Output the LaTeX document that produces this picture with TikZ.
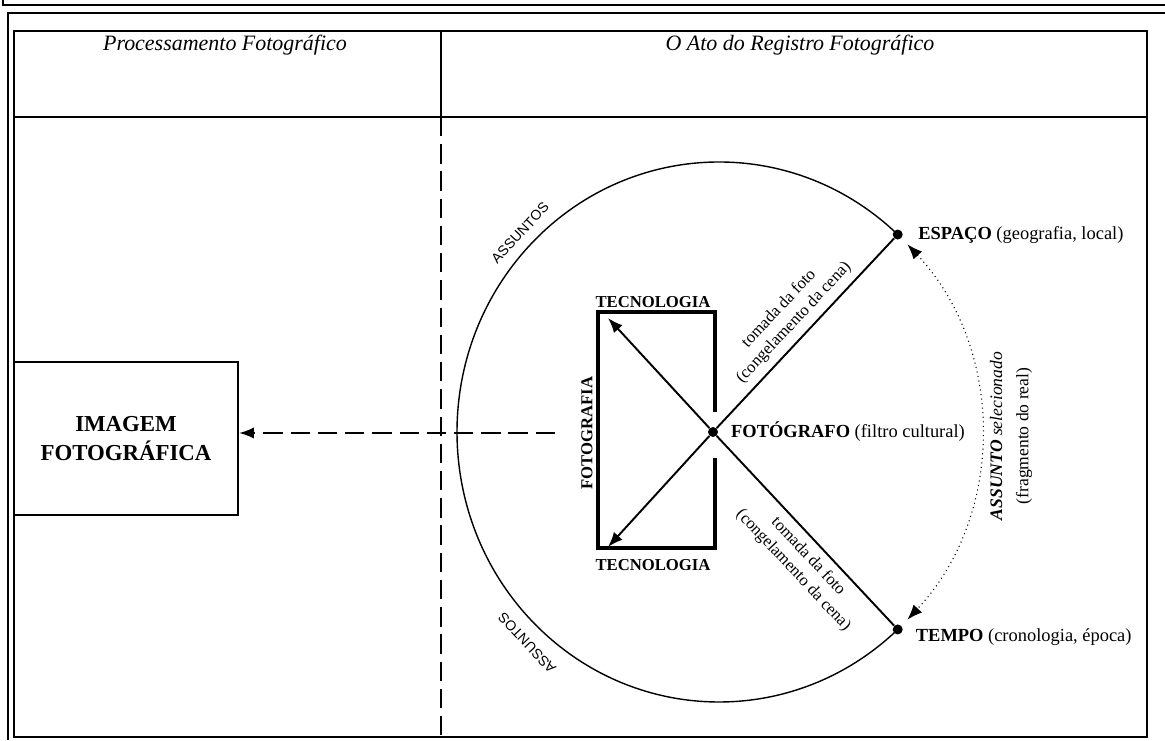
\documentclass[tikz,border=0pt]{standalone}
\usepackage{fontspec}
\setmainfont{Liberation Serif}
\setsansfont{Liberation Sans}
\usetikzlibrary{arrows.meta,positioning}

\begin{document}
\begin{tikzpicture}[x=0.02cm,y=0.02cm,
		frame line/.style = {line width=1.1pt},
		dash line/.style = {line width=1.3pt, dash pattern=on 11pt off 4.5pt},
		circ line/.style = {line width=0.8pt},
		ray line/.style = {line width=1.1pt},
		box line/.style = {line width=2.4pt, line join=miter},
		tip/.style = {-{Latex[length=3mm,width=2.3mm]}},
		dot node/.style = {circle, fill, inner sep=0pt, minimum size=0.2cm},
		head node/.style = {font=\fontsize{12.5}{14}\selectfont\itshape},
		image node/.style = {draw, line width=1.1pt, minimum width=4.48cm, minimum height=3.06cm,
			align=center, font=\fontsize{13}{16}\selectfont\bfseries},
		label node/.style = {font=\fontsize{10.5}{12}\selectfont, inner sep=0pt},
		tec node/.style = {font=\fontsize{9.5}{11}\selectfont\bfseries, inner sep=1pt},
		shot node/.style = {font=\fontsize{9.5}{11.5}\selectfont, align=center, inner sep=1pt},
		sans node/.style = {font=\fontsize{8}{10}\selectfont\sffamily, inner sep=0pt}]
	\useasboundingbox (0,0) rectangle (1165,740);
	
	% frames
	\draw[frame line] (3,740) -- (3,735) -- (1165,735);
	\draw[frame line] (8,0) -- (8,727) -- (1165,727);
	\draw[frame line] (14,3) rectangle (1147,709);
	\draw[frame line] (14,623) -- (1147,623);
	\draw[frame line] (441,709) -- (441,623);
	\draw[dash line] (441,623) -- (441,3);
	
	\node[head node] (h1) at (225,695) {Processamento Fotográfico};
	\node[head node] (h2) at (800,695) {O Ato do Registro Fotográfico};
	
	% left box
	\node[image node] (imagem) at (126,301.5) {IMAGEM\\FOTOGRÁFICA};
	\coordinate (src) at (555,307);
	\draw[dash line,tip] (src) -- (src -| imagem.east);
	
	% circle
	\coordinate (c) at (719,308);
	\node[dot node] (foto) at (713,308) {};
	\node[dot node] (esp) at ([shift={(47:262 and 270)}]c) {};
	\node[dot node] (tempo) at ([shift={(-47:262 and 270)}]c) {};
	\draw[circ line] (esp.center) arc[start angle=47, end angle=313, x radius=262, y radius=270];
	\coordinate (d1) at ([shift={(44:262 and 270)}]c);
	\draw[line width=0.6pt, dotted, {Latex[length=3mm,width=2.3mm]}-{Latex[length=3mm,width=2.3mm]}]
		(d1) arc[start angle=44, end angle=-44, x radius=262, y radius=270];
	
	\node[sans node, rotate=47] (as1) at (520,507) {ASSUNTOS};
	\node[sans node, rotate=133] (as2) at (527,97) {ASSUNTOS};
	
	% photo frame
	\draw[box line] (715,328) -- (715,428) -- (598,428) -- (598,192) -- (715,192) -- (715,282);
	\coordinate (tl) at (608,422);
	\coordinate (bl) at (608,193);
	\draw[ray line,tip] (foto) -- (tl);
	\draw[ray line,tip] (foto) -- (bl);
	\node[tec node] (tec1) at (653,438) {TECNOLOGIA};
	\node[tec node] (tec2) at (653,175) {TECNOLOGIA};
	\node[tec node, rotate=90] (fotografia) at (587,307) {FOTOGRAFIA};
	
	\draw[ray line] (foto) -- node[shot node, sloped, above=3pt, pos=.5] {tomada da foto\\(congelamento da cena)} (esp);
	\draw[ray line] (foto) -- node[shot node, sloped, below=3pt, pos=.58] {tomada da foto\\(congelamento da cena)} (tempo);
	
	% labels
	\node[label node, right=0.25cm of foto] (fotolbl) {\textbf{FOTÓGRAFO} (filtro cultural)};
	\node[label node, right=0.3cm of esp] (esplbl) {\textbf{ESPAÇO} (geografia, local)};
	\node[label node, right=0.25cm of tempo, yshift=-0.15cm] (tempolbl) {\textbf{TEMPO} (cronologia, época)};
	\node[shot node, rotate=90, font=\fontsize{10}{15}\selectfont] (assunto) at (1011,304)
		{\textbf{\textit{ASSUNTO}} \textit{selecionado}\\(fragmento do real)};
\end{tikzpicture}
\end{document}
